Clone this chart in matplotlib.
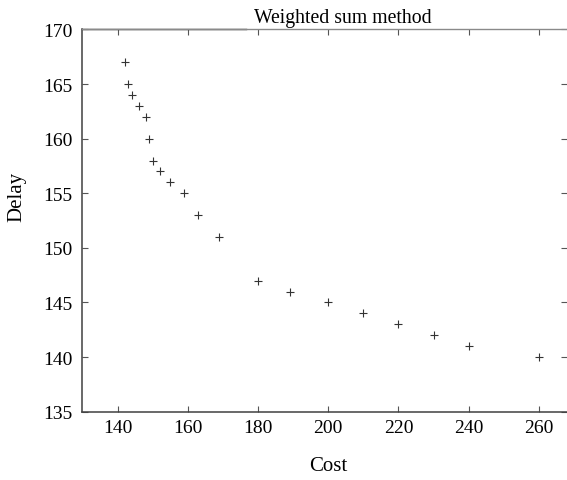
import matplotlib
matplotlib.use("Agg")
import matplotlib.pyplot as plt

# pareto points
cost = [142, 143, 144, 146, 148, 149, 150, 152, 155, 159, 163, 169,
        180, 189, 200, 210, 220, 230, 240, 260]
delay = [167, 165, 164, 163, 162, 160, 158, 157, 156, 155, 153, 151,
         147, 146, 145, 144, 143, 142, 141, 140]

xticks = [140, 160, 180, 200, 220, 240, 260]
yticks = [135, 140, 145, 150, 155, 160, 165, 170]

plt.rcParams['font.family'] = ['Liberation Serif', 'DejaVu Serif']
plt.rcParams['font.size'] = 14

fig = plt.figure(figsize=(5.67, 4.81), dpi=100)
ax = fig.add_axes([0.1455, 0.1422, 0.8545, 0.7944])

ax.plot(cost, delay, linestyle='none', marker='+', markersize=6,
        markeredgewidth=0.8, color='#333333')

ax.set_xlim(130, 268)
ax.set_ylim(135, 170)
ax.set_xticks(xticks)
ax.set_yticks(yticks)

ax.tick_params(direction='in', length=4, width=0.8, color='#555555',
               top=True, right=True, pad=7)
ax.tick_params(axis='x', pad=5)

for side in ['left', 'bottom']:
    ax.spines[side].set_color('#404040')
    ax.spines[side].set_linewidth(1.1)
ax.spines['top'].set_color('#8a8a8a')
ax.spines['top'].set_linewidth(1.0)
ax.spines['right'].set_visible(False)
# darker left part of top border, as in the scanned original
ax.plot([0, 0.337], [1, 1], transform=ax.transAxes, color='#222222',
        lw=1.0, clip_on=False)

ax.set_title('Weighted sum method', x=0.538, pad=5.5, fontsize=14.2)
ax.set_xlabel('Cost', fontsize=15)
ax.set_ylabel('Delay', fontsize=15)
ax.xaxis.set_label_coords(0.507, -0.115)
ax.yaxis.set_label_coords(-0.115, 0.565)

fig.savefig('out.png', dpi=100)
